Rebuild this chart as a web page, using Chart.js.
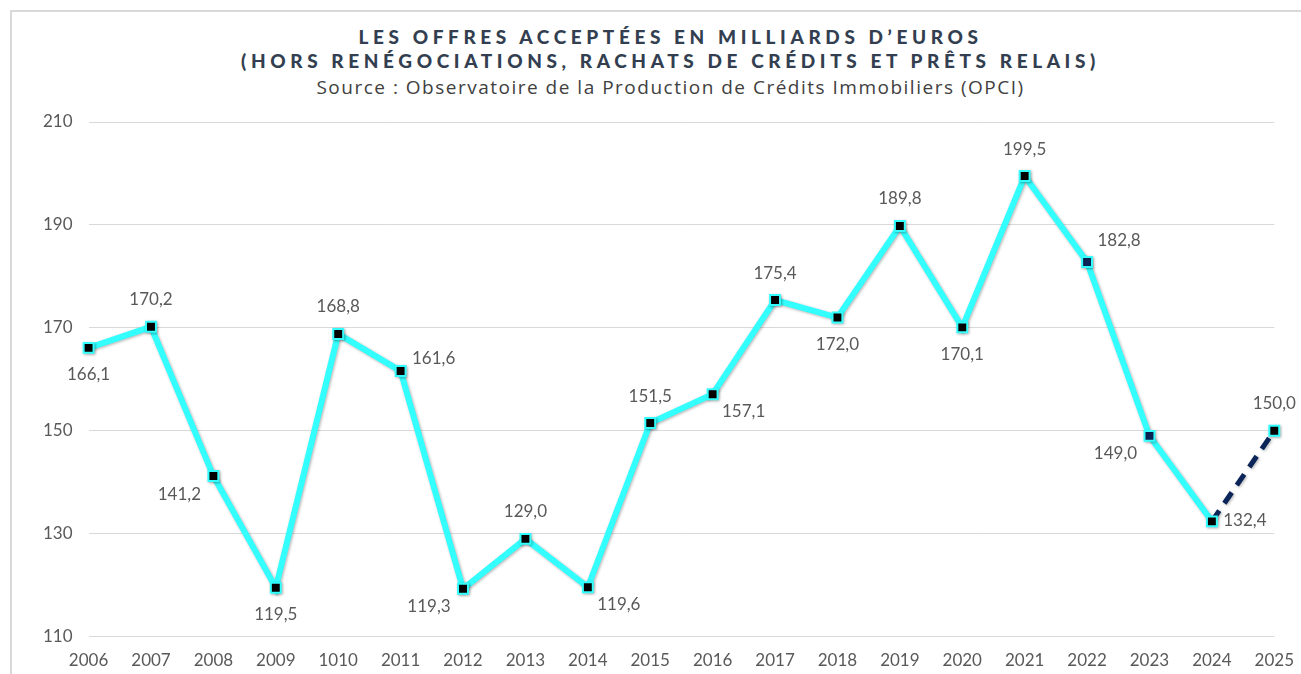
<!DOCTYPE html>
<html>
<head>
<meta charset="utf-8">
<script src="https://cdn.jsdelivr.net/npm/chart.js@4.4.1/dist/chart.umd.min.js"></script>
<style>
  html, body { margin: 0; padding: 0; background: #fff; overflow: hidden; }
  body { width: 1301px; height: 674px; position: relative; font-family: Lato, "Open Sans", sans-serif; }
  #frame { position: absolute; left: 10px; top: 10px; width: 1400px; height: 800px;
           border-top: 2px solid #d9d9d9; border-left: 2px solid #d9d9d9; }
  #titles { position: absolute; left: 0; top: 25px; width: 1341px; text-align: center; }
  .t1 { font-weight: 900; font-size: 19px; letter-spacing: 4.6px; color: #333f50; line-height: 24px; }
  .t2 { font-family: "Open Sans", sans-serif; font-size: 19px; color: #404040; line-height: 29px; letter-spacing: 1.5px; }
  #wrap { position: absolute; left: 0; top: 0; width: 1308px; height: 689px; }
</style>
</head>
<body>
<div id="frame"></div>
<div id="titles">
  <div class="t1">LES OFFRES ACCEPTÉES EN MILLIARDS D’EUROS</div>
  <div class="t1">(HORS RENÉGOCIATIONS, RACHATS DE CRÉDITS ET PRÊTS RELAIS)</div>
  <div class="t2">Source : Observatoire de la Production de Crédits Immobiliers (OPCI)</div>
</div>
<div id="wrap"><canvas id="offres-chart"></canvas></div>
<script>
const YEARS = ['2006', '2007', '2008', '2009', '1010', '2011', '2012', '2013', '2014', '2015',
  '2016', '2017', '2018', '2019', '2020', '2021', '2022', '2023', '2024', '2025'];
const VALUES = [166.1, 170.2, 141.2, 119.5, 168.8, 161.6, 119.3, 129.0, 119.6, 151.5,
  157.1, 175.4, 172.0, 189.8, 170.1, 199.5, 182.8, 149.0, 132.4, 150.0];
const Y_TICKS = [110, 130, 150, 170, 190, 210];
const PROJECTED = ['2025'];
const NAVY_MARKERS = ['2022', '2023'];
// where each value label sits relative to its point
const LABEL_POS = ['b', 'a', 'bl', 'b', 'a', 'ru', 'bl', 'a', 'br', 'a',
  'br', 'a', 'b', 'a', 'b', 'a', 'ar', 'bl', 'r', 'a'];

const CYAN = '#33ffff';
const NAVY = '#0b2559';

const OFFSETS = {
  a: [0, -27], b: [0, 27], r: [33, -1], ru: [33, -13], bl: [-34, 18], br: [31, 17], ar: [32, -21]
};

const valueLabels = {
  id: 'valueLabels',
  afterDatasetsDraw(chart) {
    const ctx = chart.ctx;
    const meta = chart.getDatasetMeta(0);
    ctx.save();
    ctx.font = '17px Lato, "Open Sans", sans-serif';
    ctx.fillStyle = '#595959';
    ctx.textAlign = 'center';
    ctx.textBaseline = 'middle';
    meta.data.forEach((pt, i) => {
      const off = OFFSETS[LABEL_POS[i]];
      ctx.fillText(VALUES[i].toFixed(1).replace('.', ','), pt.x + off[0], pt.y + off[1]);
    });
    ctx.restore();
  }
};

const lineShadow = {
  id: 'lineShadow',
  beforeDatasetsDraw(chart) {
    const ctx = chart.ctx;
    ctx.save();
    ctx.shadowColor = 'rgba(0,0,0,0.3)';
    ctx.shadowBlur = 3;
    ctx.shadowOffsetX = 1;
    ctx.shadowOffsetY = 1;
  },
  afterDatasetsDraw(chart) {
    chart.ctx.restore();
  }
};

function isProjected(ctx) {
  return PROJECTED.includes(YEARS[ctx.p1DataIndex]);
}

function addOffresChart() {
  const ctx = document.getElementById('offres-chart');
  if (!ctx) {
    return;
  }

  new Chart(ctx, {
    type: 'line',
    data: {
      labels: YEARS,
      datasets: [{
        data: VALUES,
        borderColor: CYAN,
        borderWidth: 6,
        tension: 0,
        pointStyle: 'rect',
        pointRadius: 7,
        pointBorderWidth: 2,
        pointBorderColor: CYAN,
        pointBackgroundColor: YEARS.map(y => NAVY_MARKERS.includes(y) ? NAVY : '#000'),
        segment: {
          borderColor: c => isProjected(c) ? NAVY : undefined,
          borderDash: c => isProjected(c) ? [13, 9] : undefined,
          borderWidth: c => isProjected(c) ? 5 : undefined
        }
      }]
    },
    options: {
      responsive: false,
      animation: false,
      layout: {
        padding: { top: 122, left: 27, right: 0, bottom: 4 }
      },
      plugins: {
        legend: { display: false },
        tooltip: { enabled: false }
      },
      scales: {
        x: {
          offset: false,
          grid: { display: false, drawTicks: false },
          border: { display: false },
          ticks: {
            padding: 14,
            color: '#595959',
            font: { family: 'Lato', size: 17 },
            maxRotation: 0,
            autoSkip: false
          }
        },
        y: {
          min: 110,
          max: 210,
          afterBuildTicks: axis => { axis.ticks = Y_TICKS.map(v => ({ value: v })); },
          grid: { color: '#d9d9d9', lineWidth: 1, drawTicks: false },
          border: { display: false },
          ticks: {
            padding: 16,
            color: '#595959',
            font: { family: 'Lato', size: 17 }
          }
        }
      }
    },
    plugins: [lineShadow, valueLabels]
  });
}

const cv = document.getElementById('offres-chart');
cv.width = 1308;
cv.height = 689;
cv.style.width = '1308px';
cv.style.height = '689px';
addOffresChart();
</script>
</body>
</html>
